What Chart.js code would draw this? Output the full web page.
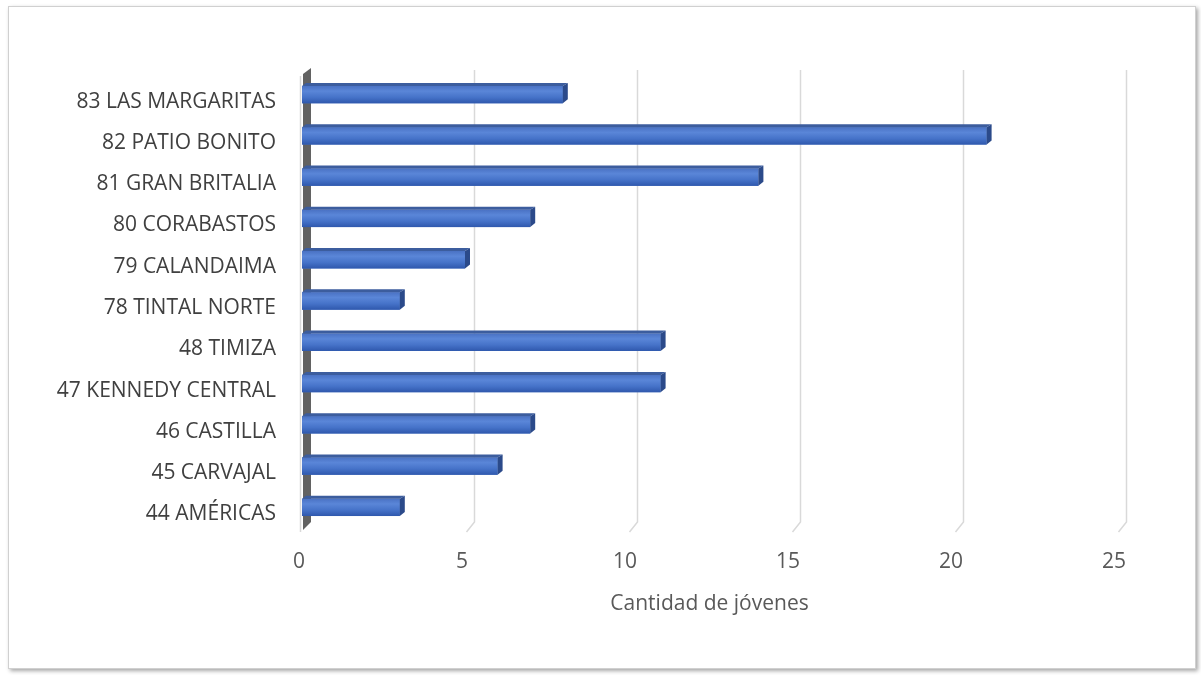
<!DOCTYPE html>
<html>
<head>
<meta charset="utf-8">
<script src="https://cdn.jsdelivr.net/npm/chart.js@4.4.1/dist/chart.umd.min.js"></script>
<style>
  html, body { margin: 0; padding: 0; background: #fff; }
  #frame {
    position: absolute; left: 8px; top: 6px; width: 1186px; height: 661px;
    border: 1px solid #d0d0d0; box-shadow: 2px 2px 4px rgba(0,0,0,0.35);
  }
  #wrap { position: absolute; left: 0; top: 0; width: 1201px; height: 675px; }
</style>
</head>
<body>
<div id="frame"></div>
<div id="wrap"><canvas id="chart" width="1201" height="675"></canvas></div>
<script>
// data
const categories = [
    '83 LAS MARGARITAS', '82 PATIO BONITO', '81 GRAN BRITALIA', '80 CORABASTOS',
    '79 CALANDAIMA', '78 TINTAL NORTE', '48 TIMIZA', '47 KENNEDY CENTRAL',
    '46 CASTILLA', '45 CARVAJAL', '44 AMÉRICAS'
];
const jovenes = [8, 21, 14, 7, 5, 3, 11, 11, 7, 6, 3];
const xTicks = [0, 5, 10, 15, 20, 25];
const axisTitle = 'Cantidad de jóvenes';

const FONT = "'Open Sans', Lato, sans-serif";

// walls, grid lines and 3d faces drawn around the library's bars
const depthPlugin = {
    id: 'depth',
    beforeDatasetsDraw(chart) {
        const ctx = chart.ctx;
        const area = chart.chartArea;
        const x = chart.scales.x;
        ctx.save();
        // grid lines on the back plane, slanting toward the floor
        ctx.strokeStyle = '#d9d9d9';
        ctx.lineWidth = 1.5;
        xTicks.forEach(function (t) {
            if (t === 0) return;
            const px = Math.round(x.getPixelForValue(t)) + 9.5;
            ctx.beginPath();
            ctx.moveTo(px, area.top - 4);
            ctx.lineTo(px, area.bottom - 6);
            ctx.lineTo(px - 8, area.bottom + 4);
            ctx.stroke();
        });
        // left side wall
        const l = area.left;
        ctx.fillStyle = '#626262';
        ctx.beginPath();
        ctx.moveTo(l + 1, area.top);
        ctx.lineTo(l + 9, area.top - 6);
        ctx.lineTo(l + 9, area.bottom - 6);
        ctx.lineTo(l + 1, area.bottom + 2);
        ctx.closePath();
        ctx.fill();
        ctx.strokeStyle = '#d9d9d9';
        ctx.beginPath();
        ctx.moveTo(l - 1.5, area.top + 2);
        ctx.lineTo(l - 1.5, area.bottom + 4);
        ctx.stroke();
        ctx.restore();
    },
    afterDatasetsDraw(chart) {
        const ctx = chart.ctx;
        ctx.save();
        chart.getDatasetMeta(0).data.forEach(function (bar) {
            const top = bar.y - bar.height / 2;
            const bot = bar.y + bar.height / 2;
            const r = bar.x;
            // shaded front face
            const g = ctx.createLinearGradient(0, top, 0, bot);
            g.addColorStop(0, '#4a72c4');
            g.addColorStop(0.3, '#5a86d8');
            g.addColorStop(0.65, '#4673c9');
            g.addColorStop(1, '#2f58ad');
            ctx.fillStyle = g;
            ctx.fillRect(bar.base, top, r - bar.base, bot - top);
            // top face
            ctx.fillStyle = '#3c5d9e';
            ctx.beginPath();
            ctx.moveTo(bar.base, top);
            ctx.lineTo(bar.base + 4, top - 3);
            ctx.lineTo(r + 5, top - 3);
            ctx.lineTo(r, top);
            ctx.closePath();
            ctx.fill();
            // end face
            ctx.fillStyle = '#2b4a8a';
            ctx.beginPath();
            ctx.moveTo(r, top);
            ctx.lineTo(r + 5, top - 3);
            ctx.lineTo(r + 5, bot - 4);
            ctx.lineTo(r, bot);
            ctx.closePath();
            ctx.fill();
        });
        ctx.restore();
    }
};

new Chart(document.getElementById('chart'), {
    type: 'bar',
    data: {
        labels: categories,
        datasets: [{
            label: axisTitle,
            data: jovenes,
            backgroundColor: '#4472c4',
            borderWidth: 0,
            categoryPercentage: 1,
            barPercentage: 0.42
        }]
    },
    options: {
        indexAxis: 'y',
        responsive: false,
        animation: false,
        events: [],
        layout: { padding: { top: 74, right: 84, bottom: 50, left: 0 } },
        plugins: {
            legend: { display: false },
            tooltip: { enabled: false }
        },
        scales: {
            x: {
                min: 0,
                max: 25,
                afterBuildTicks: function (scale) {
                    scale.ticks = xTicks.map(function (v) { return { value: v }; });
                },
                afterFit: function (scale) { scale.height = 97; },
                grid: { display: false, drawTicks: false },
                border: { display: false },
                ticks: {
                    color: '#595959',
                    font: { family: FONT, size: 21 },
                    padding: 21,
                    labelOffset: -3
                },
                title: {
                    display: true,
                    text: axisTitle,
                    color: '#595959',
                    font: { family: FONT, size: 21 },
                    padding: { top: 0, bottom: 8 }
                }
            },
            y: {
                afterFit: function (scale) { scale.width = 302; },
                grid: { display: false, drawTicks: false },
                border: { display: false },
                ticks: {
                    color: '#404040',
                    font: { family: FONT, size: 21 },
                    padding: 26,
                    labelOffset: 7
                }
            }
        }
    },
    plugins: [depthPlugin]
});
</script>
</body>
</html>
